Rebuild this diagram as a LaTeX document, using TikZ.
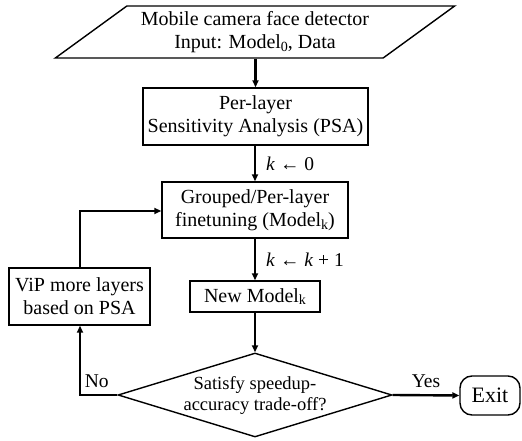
\documentclass[tikz,border=0pt]{standalone}
\usepackage{fontspec}
\setmainfont{Liberation Serif}
\usetikzlibrary{shapes.geometric,arrows.meta}
\newcommand{\mysub}[1]{\raisebox{-0.3ex}{\fontsize{14}{14}\selectfont #1}}
\begin{document}
\begin{tikzpicture}[x=1pt,y=1pt,
  box/.style={draw,line width=1.4pt,inner sep=0pt,align=center,font=\fontsize{20}{23}\selectfont},
  conn/.style={line width=2.4pt,-{Triangle[length=7pt,width=6pt]}},
  lbl/.style={font=\fontsize{19.5}{22}\selectfont,inner sep=0pt}]
\useasboundingbox (0,0) rectangle (522,441);
\node[box,trapezium,trapezium left angle=33,trapezium right angle=147,trapezium stretches=true,minimum width=400pt,minimum height=52pt] (in) at (255,409) {Mobile camera face detector\\Input: Model\mysub{0}, Data};
\node[box,minimum width=225pt,minimum height=57pt] (psa) at (255.5,324.5) {Per-layer\\Sensitivity Analysis (PSA)};
\node[box,minimum width=186pt,minimum height=56pt] (ft) at (255,231) {Grouped/Per-layer\\finetuning (Model\mysub{k})};
\node[box,minimum width=130pt,minimum height=31pt] (nm) at (255,144.5) {New Model\mysub{k}};
\node[box,minimum width=141pt,minimum height=57pt] (vip) at (79.5,144.5) {ViP more layers\\based on PSA};
\node[box,diamond,minimum width=274pt,minimum height=84pt,aspect=3.26,font=\fontsize{18.5}{21}\selectfont] (dec) at (255,46) {Satisfy speedup-\\accuracy trade-off?};
\node[box,rounded corners=12pt,minimum width=60pt,minimum height=39pt,font=\fontsize{22}{24}\selectfont] (exit) at (490,45.5) {Exit};
\coordinate (c1) at (80,46);
\coordinate (c2) at (80,230);
\draw[conn] (in.south -| psa.north) -- (psa.north);
\draw[conn] (psa.south -| ft.north) -- node[lbl,right,xshift=10pt]{\textit{k} ← 0} (ft.north);
\draw[conn] (ft.south) -- node[lbl,right,xshift=10pt]{\textit{k} ← \textit{k} + 1} (nm.north);
\draw[conn] (nm.south) -- (dec.north);
\draw[conn] (dec.west) -- node[lbl,above,pos=0.55,yshift=6pt]{No} (c1) -- (vip.south -| c1);
\draw[conn] (vip.north -| c2) -- (c2) -- (ft.west |- c2);
\draw[conn] (dec.east) -- node[lbl,above,yshift=6pt]{Yes} (exit.west);
\end{tikzpicture}
\end{document}
